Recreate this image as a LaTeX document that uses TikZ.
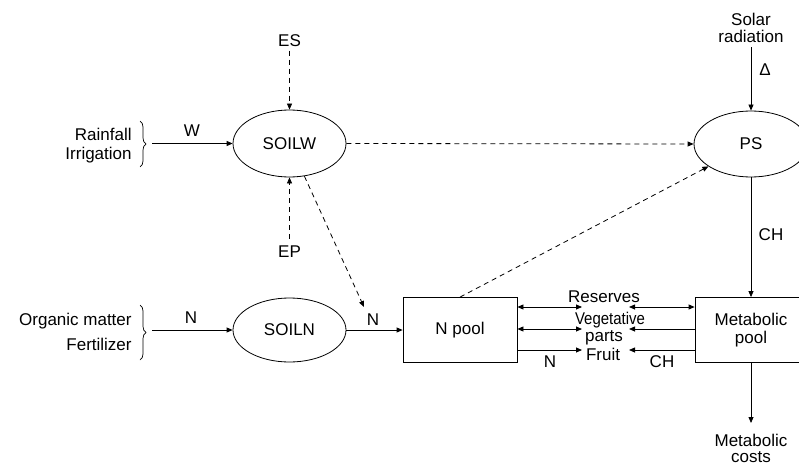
\documentclass[tikz,border=0pt]{standalone}
\usepackage{fontspec}
\setmainfont{Liberation Sans}
\usepackage{graphicx}
\usetikzlibrary{arrows.meta,shapes.geometric,decorations.pathreplacing}
\begin{document}
\begin{tikzpicture}[x=1pt,y=-1pt,
  font=\fontsize{17}{20}\selectfont,
  line width=0.8pt,
  >={Triangle[length=6pt,width=5pt]},
  oval/.style={draw,ellipse,inner sep=0pt,minimum width=113pt,minimum height=67pt},
  pbox/.style={draw,rectangle,inner sep=0pt,minimum width=114pt,minimum height=65pt,align=center},
  lbl/.style={anchor=base,inner sep=0pt},
  lbr/.style={anchor=base east,inner sep=0pt},
  dsh/.style={dash pattern=on 5pt off 4pt},
  brc/.style={decorate,decoration={brace,amplitude=6pt}}]
\useasboundingbox (0,0) rectangle (799,465);

% main nodes
\node[oval] (soilw) at (289.5,143.5) {SOILW};
\node[oval,minimum width=114pt,minimum height=66pt] (ps) at (751,144) {PS};
\node[oval,minimum height=64pt] (soiln) at (289.5,330) {SOILN};
\node[pbox] (npool) at (460,330) {N pool};
\node[pbox,minimum width=112pt] (mpool) at (751,330) {Metabolic\\[-2pt]pool};

% left inputs
\node[lbr] (rain) at (132,141) {Rainfall};
\node[lbr] (irr) at (132,160) {Irrigation};
\draw[brc,line width=0.7pt] (140,121) -- (140,167);
\coordinate (wsrc) at (152,143.5);
\draw[->] (wsrc) -- (soilw.west);
\node[lbl] (w) at (192,137) {W};

\node[lbr] (org) at (132,325) {Organic matter};
\node[lbr] (fert) at (132,350) {Fertilizer};
\draw[brc,line width=0.7pt] (140,305) -- (140,360);
\coordinate (nsrc) at (152,330);
\draw[->] (nsrc) -- (soiln.west);
\node[lbl] (n1) at (191,323) {N};

% ES / EP
\node[lbl] (es) at (289.5,47) {ES};
\node[lbl] (ep) at (289.5,257) {EP};
\draw[->,dsh] (es.south) ++(0,3) -- (soilw.north);
\draw[->,dsh,shorten <=6pt] (ep.north) -- (soilw.south);

% SOILN -> N pool
\draw[->] (soiln.east) -- (npool.west);
\node[lbl] (n2) at (373,325) {N};
\coordinate (ntip) at (364,307);
\draw[->,dsh] (soilw) -- (ntip);

% to PS
\draw[->,dsh] (soilw.east) -- (ps.west);
\draw[->,dsh] (npool.north) -- (ps);

% solar radiation
\node[align=center,inner sep=0pt] (solar) at (751,28) {Solar\\[-3pt]radiation};
\draw[->,shorten <=4pt] (solar.south) -- (ps.north);
\node[inner sep=0pt] (delta) at (765,70) {Δ};

% PS -> metabolic pool
\draw[->] (ps.south) -- (mpool.north);
\node[lbl] (ch1) at (771,240) {CH};

% metabolic costs
\node[align=center,inner sep=0pt,anchor=north] (costs) at (751,434) {Metabolic\\[-4pt]costs};
\draw[->,shorten >=11pt] (mpool.south) -- (costs.north);

% exchange arrows
\coordinate (resL) at (582,307); \coordinate (resR) at (629,307);
\coordinate (vegL) at (582,329); \coordinate (vegR) at (629,329);
\coordinate (fruL) at (582,350); \coordinate (fruR) at (629,350);
\draw[<->] (npool.east |- resL) -- (resL);
\draw[<->] (resR) -- (mpool.west |- resR);
\draw[<->] (npool.east |- vegL) -- (vegL);
\draw[->] (mpool.west |- vegR) -- (vegR);
\draw[->] (npool.east |- fruL) -- (fruL);
\draw[->] (mpool.west |- fruR) -- (fruR);

\node[lbl] (res) at (604,302) {Reserves};
\node[lbl] (veg) at (610,324) {\scalebox{0.88}[1]{Vegetative}};
\node[lbl] (parts) at (604,341) {parts};
\node[lbl] (fruit) at (603,360) {Fruit};
\node[lbl] (n3) at (550,367) {N};
\node[lbl] (ch2) at (662,367) {CH};
\end{tikzpicture}
\end{document}
